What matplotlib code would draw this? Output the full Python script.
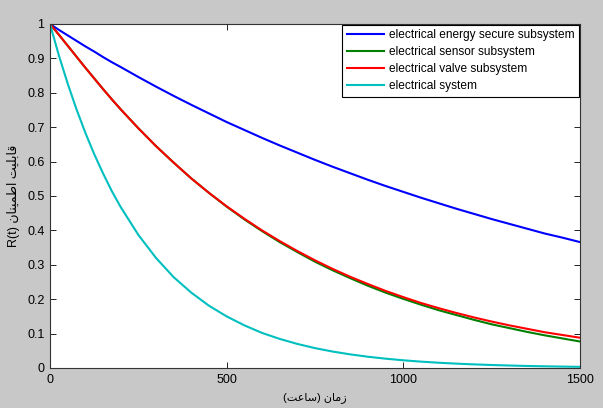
import matplotlib
matplotlib.use("Agg")
import matplotlib.pyplot as plt

plt.rcParams['font.family'] = ['Liberation Sans', 'DejaVu Sans']

# time in hours
t_hours = [0, 25, 50, 75, 100, 125, 150, 175, 200, 250, 300, 350, 400, 450, 500,
           550, 600, 650, 700, 750, 800, 850, 900, 950, 1000, 1050, 1100, 1150,
           1200, 1250, 1300, 1350, 1400, 1450, 1500]

energy_secure = [1.000, 0.983, 0.967, 0.951, 0.935, 0.920, 0.904, 0.889, 0.875,
                 0.846, 0.818, 0.791, 0.765, 0.740, 0.715, 0.692, 0.669, 0.647,
                 0.626, 0.605, 0.585, 0.566, 0.547, 0.529, 0.512, 0.495, 0.479,
                 0.463, 0.448, 0.433, 0.419, 0.405, 0.391, 0.379, 0.366]
sensor = [1.000, 0.969, 0.937, 0.905, 0.873, 0.842, 0.811, 0.781, 0.752,
          0.697, 0.645, 0.597, 0.551, 0.509, 0.469, 0.432, 0.398, 0.366,
          0.337, 0.309, 0.284, 0.261, 0.239, 0.219, 0.201, 0.184, 0.168,
          0.154, 0.140, 0.127, 0.116, 0.105, 0.095, 0.086, 0.077]
valve = [1.000, 0.969, 0.937, 0.905, 0.873, 0.842, 0.811, 0.781, 0.752,
         0.697, 0.645, 0.597, 0.551, 0.509, 0.470, 0.434, 0.400, 0.369,
         0.340, 0.313, 0.288, 0.265, 0.244, 0.224, 0.206, 0.189, 0.174,
         0.160, 0.147, 0.135, 0.124, 0.114, 0.104, 0.096, 0.088]
system = [1.000, 0.909, 0.827, 0.752, 0.684, 0.622, 0.566, 0.514, 0.468,
          0.387, 0.320, 0.264, 0.219, 0.181, 0.150, 0.124, 0.102, 0.0846,
          0.070, 0.0578, 0.0478, 0.0396, 0.0327, 0.0271, 0.0224, 0.0185, 0.0153,
          0.0127, 0.0105, 0.0087, 0.0072, 0.0059, 0.0049, 0.0041, 0.0034]

labels = ["electrical energy secure subsystem", "electrical sensor subsystem",
          "electrical valve subsystem", "electrical system"]
colors = ["#0000ff", "#008000", "#ff0000", "#00bfbf"]

x_ticks = [0, 500, 1000, 1500]
y_ticks = [0, 0.1, 0.2, 0.3, 0.4, 0.5, 0.6, 0.7, 0.8, 0.9, 1]
y_tick_labels = ["0", "0.1", "0.2", "0.3", "0.4", "0.5", "0.6", "0.7", "0.8", "0.9", "1"]

# Arabic/Persian text written with presentation forms in visual order
# x label: "زمان (ساعت)" ; y label: "R(t) قابلیت اطمینان"
xlabel_text = "(\uFE96\uFECB\uFE8E\uFEB3) \uFEE5\uFE8E\uFEE3\uFEAF"
ylabel_text = ("R(t) \uFEE5\uFE8E\uFEE8\uFEF4\uFEE4\uFEC3\uFE8D "
               "\uFE96\uFEF4\uFEE0\uFE91\uFE8E\uFED7")

fig = plt.figure(figsize=(6.03, 4.08), dpi=100, facecolor="#c8c8c8")
ax = fig.add_axes([50 / 603, 1 - 368 / 408, 530 / 603, 344 / 408])
ax.set_facecolor("white")

series = [energy_secure, sensor, valve, system]
for vals, lab, col in zip(series, labels, colors):
    ax.plot(t_hours, vals, color=col, lw=1.5, label=lab)

ax.set_xlim(0, 1500)
ax.set_ylim(0, 1)
ax.set_xticks(x_ticks)
ax.set_xticklabels([str(v) for v in x_ticks])
ax.set_yticks(y_ticks)
ax.set_yticklabels(y_tick_labels)
ax.tick_params(direction="in", top=True, right=True, length=4, width=0.6,
               labelsize=9, colors="black", pad=4)
for s in ax.spines.values():
    s.set_linewidth(0.8)
    s.set_color("#333333")

ax.set_xlabel(xlabel_text, fontsize=8, labelpad=5)
ax.set_ylabel(ylabel_text, fontsize=9, labelpad=5)

leg = ax.legend(loc="upper right", fontsize=8.6, frameon=True, fancybox=False,
                edgecolor="black", framealpha=1, borderaxespad=0.05,
                handlelength=3.1, labelspacing=0.42, handletextpad=0.45,
                borderpad=0.4)
leg.get_frame().set_linewidth(0.8)

fig.savefig("out.png", dpi=100, facecolor=fig.get_facecolor())
